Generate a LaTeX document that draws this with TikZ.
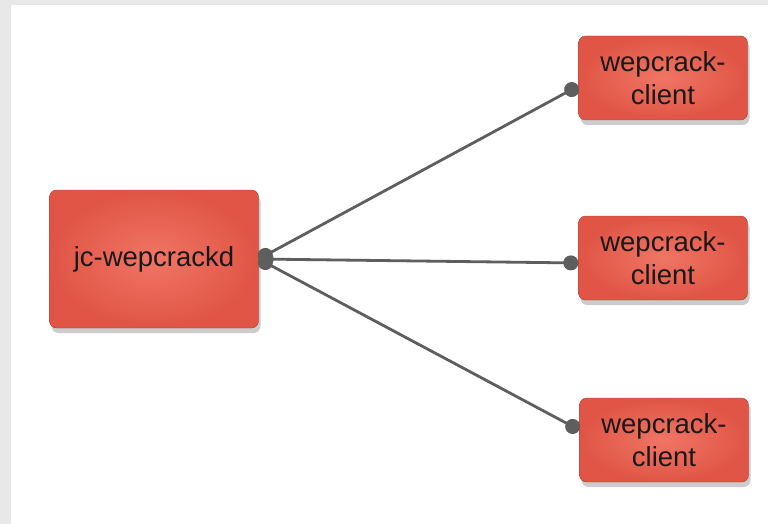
\documentclass[tikz,border=0pt]{standalone}
\usepackage{fontspec}
\setmainfont{Liberation Sans}
\usetikzlibrary{arrows.meta,positioning,shadows}
\definecolor{boxred}{HTML}{E05545}
\definecolor{boxlight}{HTML}{F07565}
\definecolor{boxedge}{HTML}{A8402F}
\definecolor{linkgray}{HTML}{5E5E5E}
\definecolor{pagegray}{HTML}{E8E8E8}
\tikzset{
    % style for the daemon and client boxes
    daemon/.style={
        rectangle,
        rounded corners=7pt,
        draw=boxedge, thin,
        inner color=boxlight,
        outer color=boxred,
        drop shadow={shadow xshift=2pt, shadow yshift=-5pt, opacity=.4},
        font=\fontsize{27.5}{33}\selectfont,
        text=black!90,
        align=center
    },
    client/.style={
        daemon,
        minimum width=169pt,
        minimum height=84pt
    },
    % style for the connectors
    link/.style={
        {Circle[length=15pt]}-{Circle[length=15pt]},
        draw=linkgray, fill=linkgray,
        line width=2.8pt
    }
}
\begin{document}
\begin{tikzpicture}[x=1pt,y=-1pt]
    % page background
    \fill[pagegray] (0,0) rectangle (768,524);
    \fill[white] (11,5) rectangle (768,524);
    \useasboundingbox (0,0) rectangle (768,524);

    \node[daemon, minimum width=209pt, minimum height=138pt] (d) at (154,259) {jc-wepcrackd};
    \node[client] (c1) at (663,78) {wepcrack-\\client};
    \node[client] (c2) at (663,258) {wepcrack-\\client};
    \node[client] (c3) at (664,440) {wepcrack-\\client};

    \draw[link] (d.east) -- ([yshift=-8pt]c1.west);
    \draw[link] (d.east) -- ([yshift=-5pt]c2.west);
    \draw[link] (d.east) -- ([yshift=10pt]c3.west);
\end{tikzpicture}
\end{document}
